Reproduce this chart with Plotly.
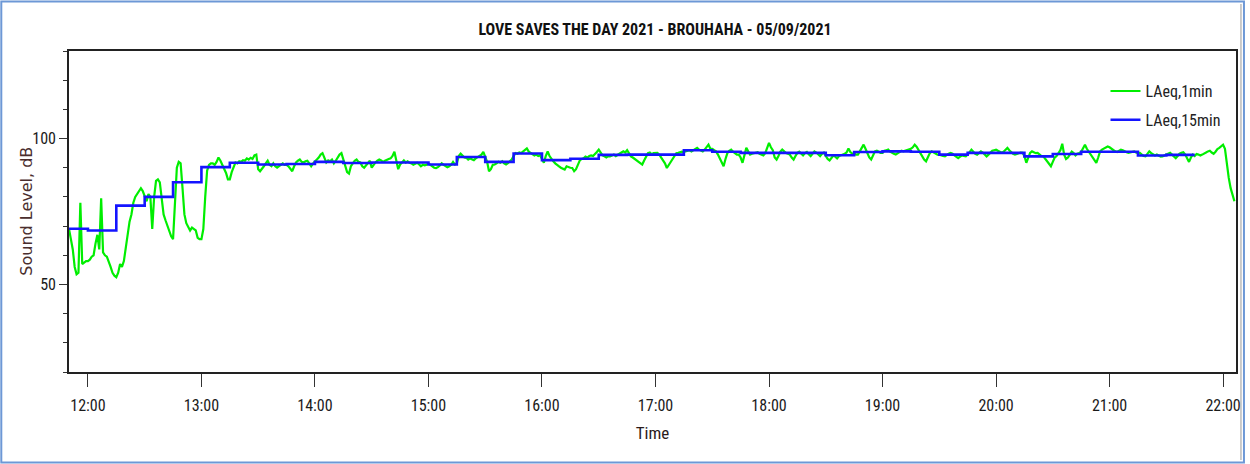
import pandas as pd
import plotly.graph_objects as go

DATE = "2021-09-05"
TITLE = "LOVE SAVES THE DAY 2021 - BROUHAHA - 05/09/2021"
NAME_1MIN = "LAeq,1min"
NAME_15MIN = "LAeq,15min"
X_TITLE = "Time"
Y_TITLE = "Sound Level, dB"

# LAeq,1min — one value per minute starting 11:50
laeq_1min_start = "11:50"
laeq_1min = [
    # 11:50-11:59
    69, 66, 62, 56, 53.5, 54, 78, 57, 57.5, 58,
    # 12:00
    58, 58.5, 59.5, 60, 64, 67, 62, 79.5, 61, 60, 59.5, 58, 56, 54, 53,
    # 12:15
    52.5, 54, 57, 56, 58, 63, 68, 71.5, 74, 78, 80, 81, 82, 83, 82,
    # 12:30
    80, 78.5, 81, 80, 69, 80, 85.5, 86, 85, 80, 74, 72, 70, 68, 66.5,
    # 12:45
    65.5, 80, 90, 92, 91.5, 83, 74, 71, 69.5, 68.5, 69.5, 69, 68.5, 66, 65.5,
    # 13:00
    65.5, 69, 80, 89, 91, 91.5, 91.5, 91, 92, 93.5, 92.5, 91, 90, 88.2, 86,
    # 13:15
    86, 88.5, 90.5, 91.8, 91.5, 92.2, 92, 92.6, 92.4, 93.2, 92.8, 93.4, 93, 94.2, 94.5,
    # 13:30
    89.5, 88.8, 89.5, 90.5, 91.5, 92.4, 91, 90.5, 91.5, 90.5, 90, 90.5, 91, 91.5, 91,
    # 13:45
    91, 90.5, 89.5, 88.8, 90.5, 91.8, 92.4, 92.8, 92, 91.8, 92.2, 92.4, 91.5, 90.5, 91.5,
    # 14:00
    92, 92.8, 93.5, 94.5, 95, 93, 91.8, 92.5, 92.2, 92.8, 91.5, 92.4, 93.5, 94.5, 95,
    # 14:15
    93, 90.5, 88.5, 88, 90.5, 91.5, 92.4, 92.8, 92, 91.8, 90.5, 90, 90.8, 91.8, 92.4,
    # 14:30
    90, 91, 91.8, 92.4, 92.8, 92.5, 92, 92.4, 92.8, 93, 93.2, 94, 95.5, 92, 89.5,
    # 14:45
    91.1, 92, 92.5, 91.8, 92.2, 91.7, 91.5, 91, 91.5, 91.7, 91.2, 90.5, 91, 90.8, 91,
    # 15:00
    91.5, 91, 90.5, 90, 89.9, 90.2, 90.8, 91.5, 91, 90.5, 90.2, 90.5, 91, 92, 91.1,
    # 15:15
    91.5, 94, 94.8, 94, 93.5, 93.4, 92.8, 93.2, 93, 92.6, 93.2, 93.6, 94.2, 94.5, 95.4,
    # 15:30
    94, 92, 88.8, 89.5, 91, 91.1, 91.5, 92, 91.7, 92.2, 91.5, 91.1, 91.6, 92.2, 92.8,
    # 15:45
    94, 95, 94.8, 95.2, 95, 95.5, 96, 96.6, 95.5, 95, 94.6, 94.2, 94.5, 94, 94.3,
    # 16:00
    93, 91.7, 94, 95.6, 94, 93, 92.2, 91.5, 91.1, 90.5, 90, 89.8, 89.4, 90.5, 90.2,
    # 16:15
    90, 89.9, 88.8, 89.5, 91, 92.5, 93, 93.2, 93.8, 93.5, 94, 94.2, 94, 94.6, 95.4,
    # 16:30
    96.2, 95, 94.2, 93.9, 93.5, 94, 93.9, 94.2, 94.5, 94, 94.5, 94.8, 95.2, 95.6, 95.2,
    # 16:45
    96, 95, 93.9, 93.5, 93, 92.8, 92.2, 91.6, 91.1, 92.5, 94, 95, 95.2, 94.6, 95,
    # 17:00
    95, 95.1, 94.5, 93.5, 92.8, 91.5, 89.9, 91, 92, 92.8, 94, 95, 95.1, 95.3, 95.5,
    # 17:15
    95.4, 95.6, 95.8, 96, 95.6, 96, 96.2, 96.8, 96.2, 95.8, 95.6, 96.2, 97, 97.9, 96.5,
    # 17:30
    96.5, 96, 95.6, 94.5, 93, 91.5, 90.5, 93, 95, 95.8, 96.2, 95.5, 95, 94.5, 94.5,
    # 17:45
    93.5, 91.7, 94, 96.8, 95.6, 94.5, 94.8, 95, 95.1, 95.3, 94.8, 94.5, 94.2, 95, 97,
    # 18:00
    98.5, 97, 96, 93.5, 92.8, 94, 95.5, 96.2, 95.5, 95, 94.8, 94.5, 93.5, 92.8, 94,
    # 18:15
    95.1, 95.5, 94.8, 94.2, 95, 95.4, 94.6, 94, 94.8, 95.6, 95.2, 94.5, 94, 94.8, 95.2,
    # 18:30
    94, 93, 92.5, 93.2, 94.2, 93.8, 93.2, 94, 94.2, 94.5, 94.8, 95.2, 96.6, 95.4, 94.8,
    # 18:45
    94.8, 94.5, 94.5, 95.5, 96.5, 97.9, 96.5, 95.1, 93.5, 92.8, 94.5, 95.6, 95.8, 95.3, 95.1,
    # 19:00
    95.1, 95.8, 96, 96.2, 95.5, 95, 94.8, 94.5, 95, 95.5, 95.8, 95.6, 95.8, 96, 96.2,
    # 19:15
    96.5, 97, 97.9, 97.2, 96, 95.1, 94, 92.8, 92.2, 93.5, 95, 95.6, 95.3, 95, 94.5,
    # 19:30
    94.5, 94.2, 94, 93.9, 94.5, 94.8, 95.1, 94.8, 94.2, 93.6, 93.3, 93.8, 94.2, 94, 93.9,
    # 19:45
    94.5, 95.2, 96.2, 95.5, 94.8, 94.5, 95, 95.6, 95.2, 94.6, 93.9, 94.5, 95.2, 95.8, 96,
    # 20:00
    96.2, 95.8, 95.4, 95.1, 95.5, 96.2, 96.8, 96, 95.2, 94.8, 94.5, 94.8, 95, 95.2, 95.1,
    # 20:15
    94, 91.7, 93.5, 95.1, 95.6, 95.3, 95, 95.1, 94.5, 94, 93.9, 93, 92, 91, 90.5,
    # 20:30
    92, 93.5, 94, 94.8, 96, 98.2, 94.5, 93, 93.5, 94.5, 95.5, 95, 94.2, 94.8, 95,
    # 20:45
    95.5, 96.5, 97.9, 96.5, 95.6, 94.5, 93.5, 92.8, 91.7, 93.5, 95.6, 96.2, 96.5, 96.8, 97.3,
    # 21:00
    97, 96.5, 96, 95.6, 95.4, 95.8, 96.2, 96, 95.5, 95.3, 95.1, 95.2, 95.5, 95.6, 95.2,
    # 21:15
    95, 95.1, 94.5, 94, 93.9, 94.8, 95.6, 95, 94.5, 94.2, 94.5, 94.2, 93.8, 93.9, 94.2,
    # 21:30
    94.5, 95, 95.1, 94.5, 93.8, 93.3, 94, 94.8, 95.1, 95.3, 94.5, 93, 92, 93.5, 94.5,
    # 21:45
    94, 94.7, 94.5, 94.2, 94.5, 95, 95.2, 95.6, 95.8, 95.2, 94.8, 95.5, 96.4, 96.8, 97.3,
    # 22:00-22:06
    97.9, 96.5, 91, 86.5, 83, 80.5, 78.5,
]

# LAeq,15min — value for each period, keyed by period start
laeq_15min_first = "11:50"
laeq_15min_start = "12:00"
laeq_15min_last = "21:30"
laeq_15min_end = "21:45"
laeq_15min = [
    69.1,                                   # 11:50
    68.5, 77.0, 80.0, 85.0,                 # 12:00-12:45
    90.2, 91.7, 91.1, 91.3,                 # 13:00-13:45
    92.0, 91.6, 91.8, 91.8,                 # 14:00-14:45
    91.1, 93.7, 92.0, 94.9,                 # 15:00-15:45
    92.6, 93.1, 94.4, 94.5,                 # 16:00-16:45
    94.5, 96.0, 95.5, 95.1,                 # 17:00-17:45
    95.1, 95.1, 94.3, 95.4,                 # 18:00-18:45
    95.6, 95.5, 94.5, 95.1,                 # 19:00-19:45
    95.1, 93.9, 94.7, 95.5,                 # 20:00-20:45
    95.5, 94.2, 94.4,                       # 21:00-21:30
]

x_range = ["11:50", "22:06:50"]
y_range = [20, 130]

# ---------- build ----------
t1 = pd.date_range(f"{DATE} {laeq_1min_start}", periods=len(laeq_1min), freq="min")
t15 = ([pd.Timestamp(f"{DATE} {laeq_15min_first}")]
       + list(pd.date_range(f"{DATE} {laeq_15min_start}", f"{DATE} {laeq_15min_last}", freq="15min"))
       + [pd.Timestamp(f"{DATE} {laeq_15min_end}")])
v15 = laeq_15min + [laeq_15min[-1]]

NARROW = "Liberation Sans Narrow, Arial Narrow, Roboto Condensed, Noto Sans, sans-serif"

fig = go.Figure()
fig.add_trace(go.Scatter(x=t1, y=laeq_1min, mode="lines", name=NAME_1MIN,
                         legendgroup="a",
                         line=dict(color="#00ee00", width=2.2)))
fig.add_trace(go.Scatter(x=t15, y=v15, mode="lines", name=NAME_15MIN,
                         legendgroup="b",
                         line=dict(color="#1414ff", width=2.6, shape="hv")))

axis_line = dict(showline=True, linecolor="#222222", linewidth=1.6, mirror=True,
                 showgrid=False, zeroline=False)

fig.update_layout(
    width=1250, height=464,
    margin=dict(l=69, r=9, t=51, b=92),
    paper_bgcolor="white", plot_bgcolor="white",
    title=dict(text=f"<b>{TITLE}</b>", x=0.524, xanchor="center", y=0.936, yanchor="middle",
               font=dict(family=NARROW, size=16, color="#111111")),
    showlegend=True,
    legend=dict(x=0.991, xanchor="right", y=0.928, yanchor="top",
                bgcolor="rgba(0,0,0,0)", font=dict(family=NARROW, size=16, color="#222222"),
                tracegroupgap=5, itemwidth=30, traceorder="grouped"),
    xaxis=dict(type="date",
               range=[f"{DATE} {x_range[0]}", f"{DATE} {x_range[1]}"],
               tickformat="%H:%M", dtick=3600000, tick0=f"{DATE} 00:00",
               ticks="outside", ticklen=13, tickwidth=1.3, tickcolor="#333333",
               ticklabelstandoff=5,
               tickfont=dict(family=NARROW, size=16, color="#1a1a1a"),
               title=dict(text=X_TITLE, standoff=13,
                          font=dict(family=NARROW, size=17, color="#2a1a1a")),
               **axis_line),
    yaxis=dict(range=y_range, dtick=50, tick0=0,
               ticks="outside", ticklen=8, tickwidth=1.3, tickcolor="#333333",
               minor=dict(dtick=10, tick0=0, ticks="outside", ticklen=4, tickcolor="#333333", tickwidth=1.2),
               tickfont=dict(family=NARROW, size=16, color="#1a1a1a"),
               **axis_line),
)

# y-axis title as a rotated label
fig.add_annotation(text=Y_TITLE, xref="paper", yref="paper",
                   x=-43 / 1172, y=0.5, xanchor="center", yanchor="middle",
                   textangle=-90, showarrow=False,
                   font=dict(family="DejaVu Sans, Verdana, sans-serif", size=16, color="#4a2e2e"))

# outer frame of the picture
fig.add_shape(type="rect", xref="paper", yref="paper",
              x0=-68 / 1172, x1=1180 / 1172, y0=-90.5 / 321, y1=370.5 / 321,
              line=dict(color="#6d98d6", width=2), fillcolor="rgba(0,0,0,0)", layer="above")
fig.add_shape(type="line", xref="paper", yref="paper",
              x0=1177 / 1172, x1=1177 / 1172, y0=-88 / 321, y1=368 / 321,
              line=dict(color="#9a9a9a", width=1), layer="above")

fig.write_html("out.html", config={"displayModeBar": False},
               post_script="document.body.style.margin='0px';")
